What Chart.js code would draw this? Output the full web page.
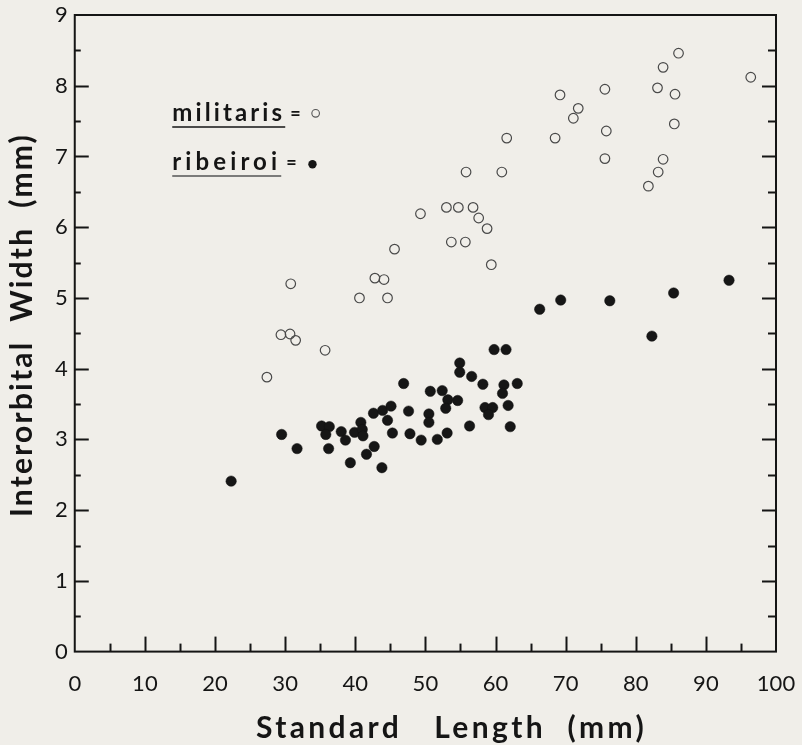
<!DOCTYPE html>
<html>
<head>
<meta charset="utf-8">
<script src="https://cdn.jsdelivr.net/npm/chart.js@4.4.0/dist/chart.umd.min.js"></script>
<style>
  body { margin: 0; background: #f0eee9; }
  canvas { display: block; }
</style>
</head>
<body>
<canvas id="chart" width="802" height="745"></canvas>
<script>
// militaris (open circles)
const militarisLength = [27.4, 29.4, 30.7, 31.5, 30.8, 35.7, 40.6, 42.8, 44.1, 44.6, 45.6, 49.3, 53.0, 54.7, 56.8, 57.6, 58.8, 53.7, 55.7, 59.4, 55.8, 60.9, 61.6, 68.5, 69.2, 71.1, 71.8, 75.6, 75.8, 75.6, 81.8, 83.2, 83.9, 83.1, 83.9, 86.1, 85.6, 85.5, 96.4];
const militarisWidth = [3.88, 4.48, 4.49, 4.40, 5.20, 4.26, 5.00, 5.28, 5.26, 5.00, 5.69, 6.19, 6.28, 6.28, 6.28, 6.13, 5.98, 5.79, 5.79, 5.47, 6.78, 6.78, 7.26, 7.26, 7.87, 7.54, 7.68, 7.95, 7.36, 6.97, 6.58, 6.78, 6.96, 7.97, 8.26, 8.46, 7.88, 7.46, 8.12];

// ribeiroi (filled dots)
const ribeiroiLength = [22.3, 29.5, 31.7, 35.2, 36.3, 35.8, 36.2, 38.0, 38.6, 39.3, 39.9, 40.8, 41.0, 41.1, 41.6, 42.7, 43.8, 42.6, 43.9, 45.1, 44.6, 45.3, 46.9, 47.6, 47.8, 49.4, 51.7, 53.1, 50.5, 50.5, 50.7, 52.4, 53.2, 52.9, 54.6, 56.3, 54.9, 54.9, 56.6, 58.2, 59.8, 61.5, 61.2, 63.1, 61.0, 58.5, 59.6, 59.0, 61.8, 62.1, 66.3, 69.3, 76.3, 82.3, 85.4, 93.3];
const ribeiroiWidth = [2.41, 3.07, 2.87, 3.19, 3.18, 3.07, 2.87, 3.11, 2.99, 2.67, 3.10, 3.24, 3.14, 3.05, 2.79, 2.90, 2.60, 3.37, 3.41, 3.47, 3.27, 3.09, 3.79, 3.40, 3.08, 2.99, 3.00, 3.09, 3.36, 3.24, 3.68, 3.69, 3.56, 3.44, 3.55, 3.19, 4.08, 3.95, 3.89, 3.78, 4.27, 4.27, 3.77, 3.79, 3.65, 3.45, 3.45, 3.35, 3.48, 3.18, 4.84, 4.97, 4.96, 4.46, 5.07, 5.25];

// axes
const xMin = 0, xMax = 100, xStep = 10, xMinorStep = 5;
const yMin = 0, yMax = 9, yStep = 1, yMinorStep = 0.5;
const xTitle = "Standard   Length  (mm)";
const yTitle = "Interorbital  Width  (mm)";
const legendNames = ["militaris", "ribeiroi"];

const FONT = "Lato, 'Open Sans', sans-serif";
const INK = "#151515";

const toPoints = (xs, ys) => xs.map((x, i) => ({ x: x, y: ys[i] }));

// text with letter spacing so it fills a given width
function fitText(ctx, text, x, y, width, size, weight) {
  ctx.font = (weight || "normal") + " " + size + "px " + FONT;
  ctx.letterSpacing = "0px";
  const w = ctx.measureText(text).width;
  const sp = (width - w) / text.length;
  ctx.letterSpacing = sp + "px";
  ctx.textAlign = "left";
  ctx.fillText(text, x, y);
  ctx.letterSpacing = "0px";
}

// frame, inward ticks, titles and legend
const framePlugin = {
  id: "frame",
  afterDatasetsDraw(chart) {
    const { ctx, chartArea: a, scales } = chart;
    const xs = scales.x, ys = scales.y;
    ctx.save();
    ctx.strokeStyle = INK;
    ctx.lineWidth = 2;
    ctx.strokeRect(a.left, a.top, a.right - a.left, a.bottom - a.top);

    // left + right ticks
    for (let v = yMin + yMinorStep; v < yMax; v += yMinorStep) {
      const py = Math.round(ys.getPixelForValue(v)) + 0.5;
      const major = Math.abs(v - Math.round(v)) < 1e-6;
      ctx.beginPath();
      ctx.moveTo(a.left, py);
      ctx.lineTo(a.left + (major ? 14 : 6), py);
      ctx.moveTo(a.right, py);
      ctx.lineTo(a.right - (major ? 14 : 8), py);
      ctx.stroke();
    }
    // bottom ticks
    for (let v = xMin + xMinorStep; v < xMax; v += xMinorStep) {
      const px = Math.round(xs.getPixelForValue(v)) + 0.5;
      const major = v % xStep === 0;
      ctx.beginPath();
      ctx.moveTo(px, a.bottom);
      ctx.lineTo(px, a.bottom - (major ? 15 : 8));
      ctx.stroke();
    }

    // axis titles
    ctx.fillStyle = INK;
    ctx.textBaseline = "alphabetic";
    fitText(ctx, xTitle, 256, 738, 391, 30, "bold");
    ctx.save();
    ctx.translate(32, 517);
    ctx.rotate(-Math.PI / 2);
    fitText(ctx, yTitle, 0, 0, 384, 30, "bold");
    ctx.restore();

    // legend
    const lx = xs.getPixelForValue(13.9);
    const rows = [
      { y: 7.5, w: 113, dotX: 34.35, dotY: 7.61, filled: false },
      { y: 6.81, w: 109, dotX: 33.9, dotY: 6.89, filled: true },
    ];
    rows.forEach((r, i) => {
      const by = ys.getPixelForValue(r.y);
      fitText(ctx, legendNames[i], lx, by, r.w, 24, "bold");
      ctx.lineWidth = 1.5;
      ctx.beginPath();
      ctx.moveTo(lx, by + 6);
      ctx.lineTo(lx + r.w, by + 6);
      ctx.stroke();
      ctx.font = "bold 18px " + FONT;
      ctx.fillText("=", lx + r.w + 5, by - 1);
      const dx = xs.getPixelForValue(r.dotX), dy = ys.getPixelForValue(r.dotY);
      ctx.beginPath();
      ctx.arc(dx, dy, r.filled ? 4.2 : 3.8, 0, Math.PI * 2);
      if (r.filled) ctx.fill();
      else { ctx.lineWidth = 1.1; ctx.strokeStyle = "#555"; ctx.stroke(); }
    });
    ctx.restore();
  },
};

const ctx = document.querySelector("#chart").getContext("2d");

new Chart(ctx, {
  type: "scatter",
  data: {
    datasets: [
      {
        label: "militaris",
        data: toPoints(militarisLength, militarisWidth),
        pointRadius: 4.8,
        borderWidth: 1.2,
        borderColor: "#4a4a4a",
        backgroundColor: "rgba(0,0,0,0)",
      },
      {
        label: "ribeiroi",
        data: toPoints(ribeiroiLength, ribeiroiWidth),
        pointRadius: 5.2,
        borderWidth: 0.5,
        borderColor: "#111",
        backgroundColor: "#161616",
      },
    ],
  },
  options: {
    responsive: false,
    animation: false,
    layout: { padding: { left: 48, right: 26, top: 15, bottom: 29 } },
    plugins: { legend: { display: false }, tooltip: { enabled: false } },
    scales: {
      x: {
        min: xMin,
        max: xMax,
        ticks: { stepSize: xStep, color: INK, padding: 19, font: { family: FONT, size: 22 } },
        grid: { drawOnChartArea: false, drawTicks: false },
        border: { display: false },
        // let layout padding decide the plot edges
        afterFit: (scale) => { scale.paddingLeft = 0; scale.paddingRight = 0; },
      },
      y: {
        min: yMin,
        max: yMax,
        ticks: { stepSize: yStep, color: INK, padding: 7, font: { family: FONT, size: 22 } },
        grid: { drawOnChartArea: false, drawTicks: false },
        border: { display: false },
        afterFit: (scale) => { scale.paddingTop = 0; scale.paddingBottom = 0; },
      },
    },
  },
  plugins: [framePlugin],
});
</script>
</body>
</html>
